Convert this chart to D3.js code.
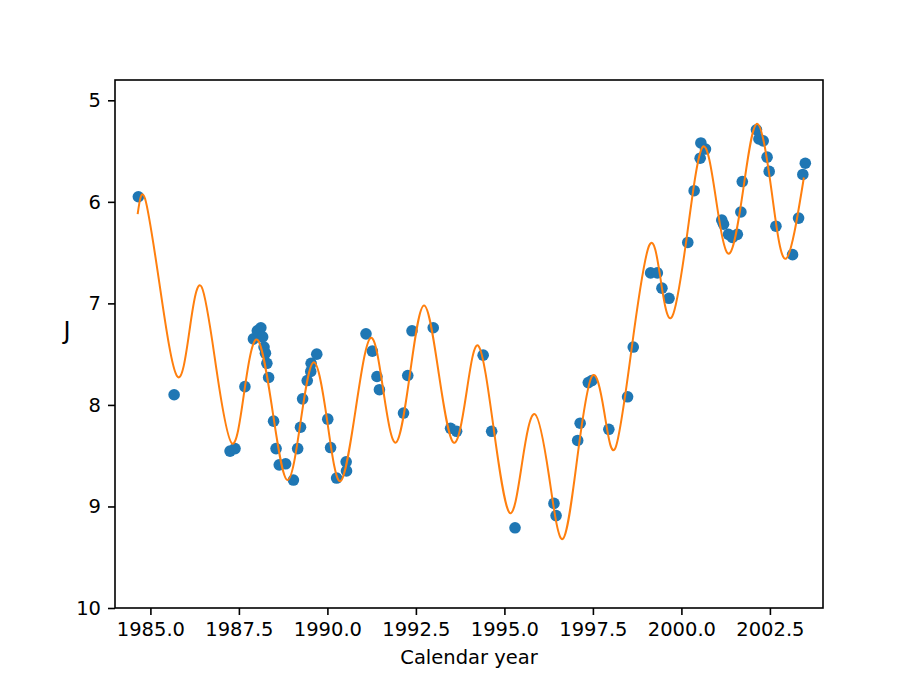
<!DOCTYPE html>
<html>
<head>
<meta charset="utf-8">
<script src="https://cdn.jsdelivr.net/npm/d3@7"></script>
<style>
  body { margin: 0; background: #fff; }
  svg { display: block; font-family: "DejaVu Sans", sans-serif; }
</style>
</head>
<body>
<svg id="chart" width="913" height="684"></svg>
<script>
// Observed data points (calendar year, J magnitude)
const obsYears = [
  1984.66, 1985.67, 1987.25, 1987.39, 1987.67, 1987.91, 1988.02, 1988.12, 1988.17, 1988.21,
  1988.25, 1988.29, 1988.34, 1988.48, 1988.55, 1988.64, 1988.82, 1989.04, 1989.16, 1989.24,
  1989.30, 1989.43, 1989.53, 1989.54, 1989.70, 1990.01, 1990.09, 1990.26, 1990.53, 1990.54,
  1991.09, 1991.27, 1991.40, 1991.47, 1992.15, 1992.27, 1992.39, 1992.99, 1993.48, 1993.65,
  1994.40, 1994.64, 1995.30, 1996.40, 1996.46, 1997.07, 1997.14, 1997.37, 1997.47, 1997.95,
  1998.48, 1998.64, 1999.13, 1999.32, 1999.45, 1999.65, 2000.18, 2000.36, 2000.53, 2000.55,
  2000.68, 2001.14, 2001.19, 2001.33, 2001.44, 2001.58, 2001.68, 2001.72, 2002.12, 2002.19,
  2002.31, 2002.42, 2002.48, 2002.67, 2003.14, 2003.31, 2003.43, 2003.50
];
const obsJ = [
  5.95, 7.90, 8.455, 8.43, 7.82, 7.35, 7.27, 7.24, 7.33, 7.43,
  7.49, 7.59, 7.73, 8.16, 8.43, 8.59, 8.58, 8.74, 8.43, 8.22,
  7.94, 7.76, 7.67, 7.59, 7.50, 8.14, 8.42, 8.72, 8.56, 8.65,
  7.30, 7.47, 7.72, 7.85, 8.08, 7.71, 7.27, 7.24, 8.23, 8.26,
  7.51, 8.26, 9.21, 8.97, 9.09, 8.35, 8.18, 7.78, 7.76, 8.24,
  7.92, 7.43, 6.70, 6.70, 6.85, 6.95, 6.40, 5.89, 5.57, 5.42,
  5.48, 6.18, 6.22, 6.32, 6.35, 6.32, 6.10, 5.80, 5.29, 5.38,
  5.40, 5.56, 5.70, 6.24, 6.52, 6.16, 5.73, 5.62
];

// Fitted model curve (extrema and midpoints)
const fitYears = [
  1984.64, 1984.85, 1985.27, 1985.76, 1986.12, 1986.45, 1986.87, 1987.31, 1987.66, 1988.03,
  1988.46, 1988.87, 1989.25, 1989.62, 1990.00, 1990.37, 1990.80, 1991.22, 1991.58, 1991.94,
  1992.33, 1992.73, 1993.15, 1993.56, 1993.92, 1994.27, 1994.70, 1995.14, 1995.50, 1995.86,
  1996.26, 1996.65, 1997.06, 1997.47, 1997.82, 1998.14, 1998.60, 1999.09, 1999.42, 1999.74,
  2000.17, 2000.60, 2000.98, 2001.35, 2001.75, 2002.14, 2002.55, 2002.95, 2003.46
];
const fitJ = [
  6.12, 5.97, 6.84, 7.72, 7.23, 6.84, 7.66, 8.38, 7.85, 7.36,
  8.08, 8.74, 8.15, 7.58, 8.17, 8.75, 8.04, 7.34, 7.86, 8.37,
  7.70, 7.02, 7.70, 8.37, 7.90, 7.42, 8.24, 9.06, 8.57, 8.09,
  8.70, 9.32, 8.52, 7.72, 8.07, 8.42, 7.43, 6.43, 6.78, 7.13,
  6.30, 5.46, 5.98, 6.51, 5.87, 5.23, 5.90, 6.56, 5.76
];

const xTicks = [1985.0, 1987.5, 1990.0, 1992.5, 1995.0, 1997.5, 2000.0, 2002.5];
const yTicks = [5, 6, 7, 8, 9, 10];
const xLabel = "Calendar year";
const yLabel = "J";

const svg = d3.select("#chart");
const mLeft = 115, mRight = 823, mTop = 80, mBottom = 608;
const fontSize = 19.5;

const x = d3.scaleLinear().domain([1984, 2004]).range([mLeft, mRight]);
const y = d3.scaleLinear().domain([4.8, 10]).range([mTop, mBottom]);

// scatter
svg.append("g")
  .selectAll("circle")
  .data(obsYears.map((d, i) => [d, obsJ[i]]))
  .join("circle")
  .attr("cx", d => x(d[0]))
  .attr("cy", d => y(d[1]))
  .attr("r", 5.8)
  .attr("fill", "#1f77b4");

// fitted curve
const line = d3.line()
  .x(d => x(d[0]))
  .y(d => y(d[1]))
  .curve(d3.curveNatural);
svg.append("path")
  .datum(fitYears.map((d, i) => [d, fitJ[i]]))
  .attr("d", line)
  .attr("fill", "none")
  .attr("stroke", "#ff7f0e")
  .attr("stroke-width", 2);

// axes
const xAxis = svg.append("g")
  .attr("transform", `translate(0,${mBottom})`)
  .call(d3.axisBottom(x).tickValues(xTicks).tickFormat(d3.format(".1f"))
        .tickSizeOuter(0).tickSize(7).tickPadding(7));
const yAxis = svg.append("g")
  .attr("transform", `translate(${mLeft},0)`)
  .call(d3.axisLeft(y).tickValues(yTicks).tickFormat(d3.format("d"))
        .tickSizeOuter(0).tickSize(7).tickPadding(7));

[xAxis, yAxis].forEach(g => {
  g.select(".domain").remove();
  g.selectAll(".tick line").attr("stroke", "#000").attr("stroke-width", 1.6);
  g.selectAll(".tick text")
    .attr("fill", "#000")
    .attr("font-size", fontSize)
    .attr("font-family", "DejaVu Sans, sans-serif");
});

// frame
svg.append("rect")
  .attr("x", mLeft).attr("y", mTop)
  .attr("width", mRight - mLeft).attr("height", mBottom - mTop)
  .attr("fill", "none")
  .attr("stroke", "#000")
  .attr("stroke-width", 1.6);

// axis labels
svg.append("text")
  .attr("x", (mLeft + mRight) / 2)
  .attr("y", 664)
  .attr("text-anchor", "middle")
  .attr("font-size", fontSize)
  .attr("fill", "#000")
  .text(xLabel);

svg.append("text")
  .attr("x", 67)
  .attr("y", 339)
  .attr("text-anchor", "middle")
  .attr("font-size", 24)
  .attr("fill", "#000")
  .text(yLabel);
</script>
</body>
</html>
